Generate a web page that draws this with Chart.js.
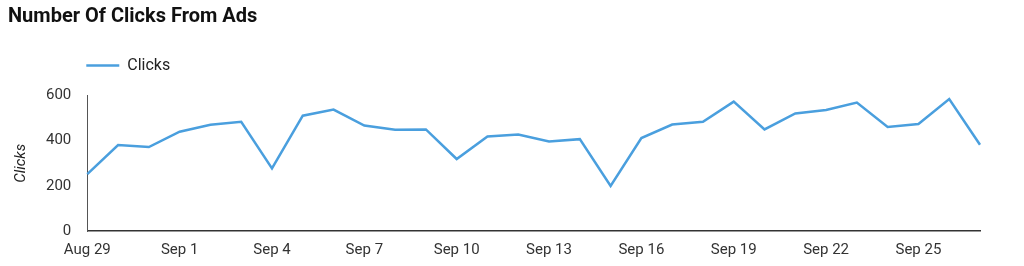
<!DOCTYPE html>
<html>
<head>
<meta charset="utf-8">
<script src="https://cdn.jsdelivr.net/npm/chart.js@4/dist/chart.umd.min.js"></script>
<style>
html,body{margin:0;padding:0;background:#fff;}
#wrap{width:1024px;height:266px;position:relative;}
</style>
</head>
<body>
<div id="wrap"><canvas id="c" width="1024" height="266"></canvas></div>
<script>
const categories = ["Aug 29","Aug 30","Aug 31","Sep 1","Sep 2","Sep 3","Sep 4","Sep 5","Sep 6","Sep 7","Sep 8","Sep 9","Sep 10","Sep 11","Sep 12","Sep 13","Sep 14","Sep 15","Sep 16","Sep 17","Sep 18","Sep 19","Sep 20","Sep 21","Sep 22","Sep 23","Sep 24","Sep 25","Sep 26","Sep 27"];
const clicks = [252,381,372,440,471,484,277,511,538,467,449,450,319,419,428,397,407,200,412,472,484,573,450,521,536,569,461,474,585,382];
const yTicks = [0,200,400,600];

const legendShift = {
  id: 'legendShift',
  beforeInit(chart) {
    const lg = chart.legend;
    if (!lg) return;
    const origFit = lg.fit;
    lg.fit = function() {
      origFit.call(this);
      this.height += 12;
    };
  },
  afterLayout(chart) {
    const lg = chart.legend;
    if (lg) { lg.left = chart.chartArea.left - 11; }
  }
};

const ctx = document.getElementById('c');
new Chart(ctx, {
  type: 'line',
  data: {
    labels: categories,
    datasets: [{
      label: 'Clicks',
      data: clicks,
      borderColor: '#4a9fde',
      backgroundColor: '#4a9fde',
      borderWidth: 2.5,
      pointRadius: 0,
      pointHoverRadius: 0,
      tension: 0,
      fill: false
    }]
  },
  plugins: [legendShift],
  options: {
    responsive: false,
    animation: false,
    layout: { padding: { left: 8, right: 44, top: 4, bottom: -3 } },
    plugins: {
      title: {
        display: true,
        text: 'Number Of Clicks From Ads',
        align: 'start',
        color: '#111',
        font: { family: 'Roboto', size: 20, weight: 'bold' },
        padding: { top: 1, bottom: 18.6 }
      },
      legend: {
        display: true,
        align: 'start',
        labels: {
          usePointStyle: true,
          pointStyle: 'line',
          pointStyleWidth: 33,
          boxWidth: 33,
          padding: 10,
          color: '#222',
          font: { family: 'Roboto', size: 16 }
        }
      },
      tooltip: { enabled: false }
    },
    scales: {
      x: {
        grid: { display: false, drawTicks: false },
        border: { display: true, color: '#333', width: 1.5 },
        ticks: {
          autoSkip: false,
          maxRotation: 0,
          color: '#333',
          padding: 10,
          font: { family: 'Roboto', size: 15 },
          callback: function(v, i) { return i % 3 === 0 ? categories[i] : ''; }
        }
      },
      y: {
        min: 0,
        max: 600,
        afterBuildTicks: function(axis) { axis.ticks = yTicks.map(v => ({ value: v })); },
        grid: { display: false, drawTicks: false },
        border: { display: true, color: '#555', width: 1 },
        title: {
          display: true,
          text: 'Clicks',
          color: '#222',
          font: { family: 'Roboto', size: 15, style: 'italic' },
          padding: { top: 4, bottom: 0 }
        },
        ticks: {
          color: '#333',
          padding: 16,
          font: { family: 'Roboto', size: 15 }
        }
      }
    }
  }
});
</script>
</body>
</html>
